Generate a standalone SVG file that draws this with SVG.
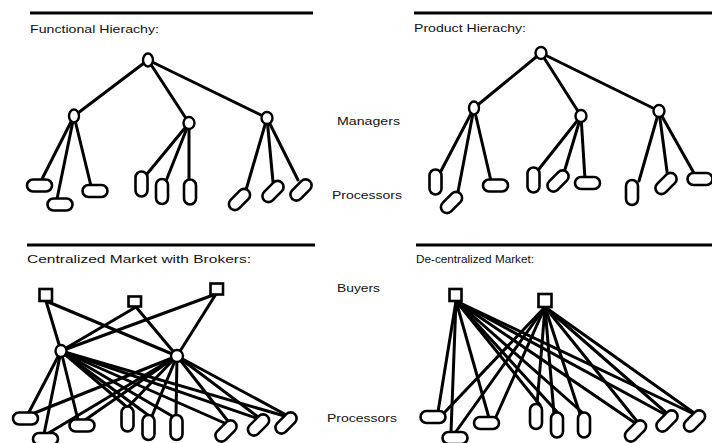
<svg xmlns="http://www.w3.org/2000/svg" xmlns:xlink="http://www.w3.org/1999/xlink" width="712" height="443" viewBox="0 0 712 443">
<style>
  .t { font-family: "Liberation Sans", Arial, sans-serif; font-size: 11.6px; fill: #111; }
  .rule { stroke: #000; stroke-width: 3.2; fill: none; }
  .e { stroke: #000; stroke-width: 3; stroke-linecap: round; fill: none; }
  .n { fill: #fff; stroke: #000; stroke-width: 2.4; }
  .p { fill: #fff; stroke: #000; stroke-width: 2.6; }
  .b { fill: #fff; stroke: #000; stroke-width: 2.6; }
</style>
<defs>
  <rect id="proc" x="-12.5" y="-6" width="25" height="12" rx="6" ry="6"/>
</defs>
<rect width="712" height="443" fill="#fff"/>

<!-- section rules and titles -->
<g id="titles">
  <line class="rule" x1="30" y1="13" x2="313" y2="13"/>
  <line class="rule" x1="414" y1="13" x2="712" y2="13"/>
  <line class="rule" x1="27" y1="245" x2="315" y2="245"/>
  <line class="rule" x1="416" y1="245" x2="712" y2="245"/>
  <text class="t" x="30" y="33" textLength="129" lengthAdjust="spacingAndGlyphs">Functional Hierachy:</text>
  <text class="t" x="414" y="32" textLength="112" lengthAdjust="spacingAndGlyphs">Product Hierachy:</text>
  <text class="t" x="27" y="263" textLength="224" lengthAdjust="spacingAndGlyphs">Centralized Market with Brokers:</text>
  <text class="t" x="416" y="263" textLength="118" lengthAdjust="spacingAndGlyphs">De-centralized Market:</text>
  <text class="t" x="337" y="125" textLength="63" lengthAdjust="spacingAndGlyphs">Managers</text>
  <text class="t" x="332" y="199" textLength="70" lengthAdjust="spacingAndGlyphs">Processors</text>
  <text class="t" x="337" y="292" textLength="43" lengthAdjust="spacingAndGlyphs">Buyers</text>
  <text class="t" x="327" y="422" textLength="70" lengthAdjust="spacingAndGlyphs">Processors</text>
</g>

<!-- connectors -->
<g id="connectors" class="e">
  <!-- functional hierarchy -->
  <line x1="148" y1="60" x2="74" y2="116"/>
  <line x1="148" y1="60" x2="189" y2="123"/>
  <line x1="148" y1="60" x2="267" y2="118"/>
  <line x1="74" y1="116" x2="41" y2="181"/>
  <line x1="74" y1="116" x2="57" y2="199"/>
  <line x1="74" y1="116" x2="91" y2="186"/>
  <line x1="189" y1="123" x2="147" y2="174"/>
  <line x1="189" y1="123" x2="166" y2="181"/>
  <line x1="189" y1="123" x2="189" y2="180"/>
  <line x1="267" y1="118" x2="246" y2="190"/>
  <line x1="267" y1="118" x2="273" y2="182"/>
  <line x1="267" y1="118" x2="298" y2="180"/>
  <!-- product hierarchy -->
  <line x1="541" y1="53" x2="474" y2="108"/>
  <line x1="541" y1="53" x2="581" y2="116"/>
  <line x1="541" y1="53" x2="659" y2="111"/>
  <line x1="474" y1="108" x2="441" y2="171"/>
  <line x1="474" y1="108" x2="457" y2="197"/>
  <line x1="474" y1="108" x2="491" y2="181"/>
  <line x1="581" y1="116" x2="539" y2="169"/>
  <line x1="581" y1="116" x2="563" y2="176"/>
  <line x1="581" y1="116" x2="585" y2="179"/>
  <line x1="659" y1="111" x2="639" y2="181"/>
  <line x1="659" y1="111" x2="668" y2="179"/>
  <line x1="659" y1="111" x2="695" y2="175"/>
  <!-- centralized market: buyers to brokers -->
  <line x1="46" y1="301" x2="61" y2="351"/>
  <line x1="46" y1="301" x2="177" y2="356"/>
  <line x1="136" y1="307" x2="61" y2="351"/>
  <line x1="136" y1="307" x2="177" y2="356"/>
  <line x1="216" y1="294" x2="61" y2="351"/>
  <line x1="216" y1="294" x2="177" y2="356"/>
  <!-- centralized market: brokers to processors -->
  <line x1="61" y1="351" x2="28" y2="414"/>
  <line x1="61" y1="351" x2="44" y2="434"/>
  <line x1="61" y1="351" x2="78" y2="420"/>
  <line x1="61" y1="351" x2="128" y2="408"/>
  <line x1="61" y1="351" x2="148" y2="415"/>
  <line x1="61" y1="351" x2="172" y2="416"/>
  <line x1="61" y1="351" x2="229" y2="425"/>
  <line x1="61" y1="351" x2="259" y2="419"/>
  <line x1="61" y1="351" x2="288" y2="417"/>
  <line x1="177" y1="356" x2="32" y2="414"/>
  <line x1="177" y1="356" x2="47" y2="434"/>
  <line x1="177" y1="356" x2="85" y2="420"/>
  <line x1="177" y1="356" x2="127" y2="408"/>
  <line x1="177" y1="356" x2="152" y2="416"/>
  <line x1="177" y1="356" x2="176" y2="416"/>
  <line x1="177" y1="356" x2="231" y2="425"/>
  <line x1="177" y1="356" x2="261" y2="419"/>
  <line x1="177" y1="356" x2="290" y2="417"/>
  <!-- de-centralized market -->
  <line x1="456" y1="301" x2="438" y2="412"/>
  <line x1="456" y1="301" x2="451" y2="432"/>
  <line x1="456" y1="301" x2="489" y2="418"/>
  <line x1="456" y1="301" x2="540" y2="405"/>
  <line x1="456" y1="301" x2="559" y2="414"/>
  <line x1="456" y1="301" x2="584" y2="414"/>
  <line x1="456" y1="301" x2="638" y2="425"/>
  <line x1="456" y1="301" x2="668" y2="416"/>
  <line x1="456" y1="301" x2="696" y2="415"/>
  <line x1="545" y1="307" x2="444" y2="413"/>
  <line x1="545" y1="307" x2="455" y2="433"/>
  <line x1="545" y1="307" x2="495" y2="419"/>
  <line x1="545" y1="307" x2="537" y2="405"/>
  <line x1="545" y1="307" x2="554" y2="414"/>
  <line x1="545" y1="307" x2="580" y2="414"/>
  <line x1="545" y1="307" x2="640" y2="425"/>
  <line x1="545" y1="307" x2="670" y2="416"/>
  <line x1="545" y1="307" x2="697" y2="415"/>
</g>

<!-- functional hierarchy nodes -->
<g id="fh-nodes">
  <g id="fh-root"><ellipse class="n" cx="148" cy="60" rx="5" ry="6.5"/></g>
  <g id="fh-m1"><ellipse class="n" cx="74" cy="116" rx="5" ry="6.5"/></g>
  <g id="fh-m2"><ellipse class="n" cx="189" cy="123" rx="5.5" ry="6"/></g>
  <g id="fh-m3"><ellipse class="n" cx="267" cy="118" rx="5.5" ry="6"/></g>
  <g id="fh-p1"><use href="#proc" class="p" transform="translate(39.5,185.5)"/></g>
  <g id="fh-p2"><use href="#proc" class="p" transform="translate(60,204.5)"/></g>
  <g id="fh-p3"><use href="#proc" class="p" transform="translate(95,191)"/></g>
  <g id="fh-p4"><use href="#proc" class="p" transform="translate(141.5,184) rotate(90)"/></g>
  <g id="fh-p5"><use href="#proc" class="p" transform="translate(162,191.5) rotate(90)"/></g>
  <g id="fh-p6"><use href="#proc" class="p" transform="translate(190,192) rotate(90)"/></g>
  <g id="fh-p7"><use href="#proc" class="p" transform="translate(239.5,199.5) rotate(-45)"/></g>
  <g id="fh-p8"><use href="#proc" class="p" transform="translate(273,191.5) rotate(-45)"/></g>
  <g id="fh-p9"><use href="#proc" class="p" transform="translate(301,190) rotate(-45)"/></g>
</g>

<!-- product hierarchy nodes -->
<g id="ph-nodes">
  <g id="ph-root"><ellipse class="n" cx="541" cy="53" rx="5.5" ry="6"/></g>
  <g id="ph-m1"><ellipse class="n" cx="474" cy="108" rx="5" ry="6.5"/></g>
  <g id="ph-m2"><ellipse class="n" cx="581" cy="116" rx="5.5" ry="6"/></g>
  <g id="ph-m3"><ellipse class="n" cx="659" cy="111" rx="5.5" ry="6"/></g>
  <g id="ph-p1"><use href="#proc" class="p" transform="translate(435.5,182) rotate(90)"/></g>
  <g id="ph-p2"><use href="#proc" class="p" transform="translate(451.5,202.5) rotate(-45)"/></g>
  <g id="ph-p3"><use href="#proc" class="p" transform="translate(495.5,185.5)"/></g>
  <g id="ph-p4"><use href="#proc" class="p" transform="translate(533.5,180) rotate(90)"/></g>
  <g id="ph-p5"><use href="#proc" class="p" transform="translate(558,181) rotate(-45)"/></g>
  <g id="ph-p6"><use href="#proc" class="p" transform="translate(587.5,183)"/></g>
  <g id="ph-p7"><use href="#proc" class="p" transform="translate(632,192.5) rotate(90)"/></g>
  <g id="ph-p8"><use href="#proc" class="p" transform="translate(666,183.5) rotate(-45)"/></g>
  <g id="ph-p9"><use href="#proc" class="p" transform="translate(700,179)"/></g>
</g>

<!-- centralized market nodes -->
<g id="cm-nodes">
  <g id="cm-b1"><rect class="b" x="39.5" y="289" width="12.5" height="12"/></g>
  <g id="cm-b2"><rect class="b" x="128.5" y="296.5" width="12.5" height="10"/></g>
  <g id="cm-b3"><rect class="b" x="210.5" y="283.5" width="12.5" height="11"/></g>
  <g id="cm-k1"><ellipse class="n" cx="61" cy="351" rx="5.5" ry="6"/></g>
  <g id="cm-k2"><ellipse class="n" cx="177" cy="356" rx="6" ry="6"/></g>
  <g id="cm-p1"><use href="#proc" class="p" transform="translate(25.5,418.5)"/></g>
  <g id="cm-p2"><use href="#proc" class="p" transform="translate(45.5,439)"/></g>
  <g id="cm-p3"><use href="#proc" class="p" transform="translate(82,425.5)"/></g>
  <g id="cm-p4"><use href="#proc" class="p" transform="translate(127.5,419) rotate(90)"/></g>
  <g id="cm-p5"><use href="#proc" class="p" transform="translate(148.5,427.5) rotate(90)"/></g>
  <g id="cm-p6"><use href="#proc" class="p" transform="translate(176.5,427.5) rotate(90)"/></g>
  <g id="cm-p7"><use href="#proc" class="p" transform="translate(226,431) rotate(-45)"/></g>
  <g id="cm-p8"><use href="#proc" class="p" transform="translate(258.5,425) rotate(-45)"/></g>
  <g id="cm-p9"><use href="#proc" class="p" transform="translate(286,423) rotate(-45)"/></g>
</g>

<!-- de-centralized market nodes -->
<g id="dm-nodes">
  <g id="dm-b1"><rect class="b" x="449.5" y="289" width="12" height="12"/></g>
  <g id="dm-b2"><rect class="b" x="538.5" y="294" width="13" height="13"/></g>
  <g id="dm-p1"><use href="#proc" class="p" transform="translate(433,417)"/></g>
  <g id="dm-p2"><use href="#proc" class="p" transform="translate(455,438)"/></g>
  <g id="dm-p3"><use href="#proc" class="p" transform="translate(486.5,423)"/></g>
  <g id="dm-p4"><use href="#proc" class="p" transform="translate(536,416.5) rotate(90)"/></g>
  <g id="dm-p5"><use href="#proc" class="p" transform="translate(557,425) rotate(90)"/></g>
  <g id="dm-p6"><use href="#proc" class="p" transform="translate(584,425) rotate(90)"/></g>
  <g id="dm-p7"><use href="#proc" class="p" transform="translate(635.5,431) rotate(-45)"/></g>
  <g id="dm-p8"><use href="#proc" class="p" transform="translate(667,421) rotate(-45)"/></g>
  <g id="dm-p9"><use href="#proc" class="p" transform="translate(694.5,421) rotate(-45)"/></g>
</g>
</svg>
